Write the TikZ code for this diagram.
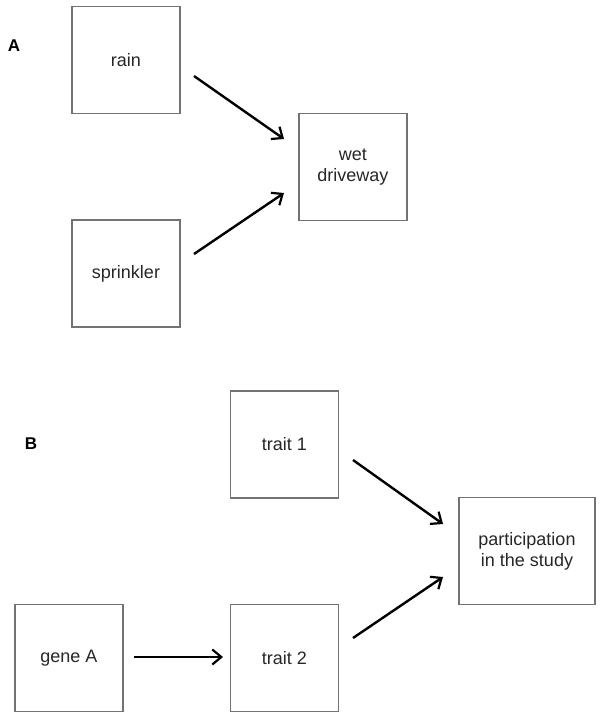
\documentclass[tikz,border=0pt]{standalone}
\usepackage{fontspec}
\setmainfont{Liberation Sans}
\usetikzlibrary{arrows.meta}

\tikzset{
  factor/.style={draw=black!55, line width=0.8pt, minimum width=54pt, minimum height=53.5pt,
    inner sep=0pt, align=center, font=\fontsize{9}{10.5}\selectfont, text=black!85},
  panel/.style={font=\fontsize{8.5}{10}\selectfont\bfseries},
  cause/.style={-{Straight Barb[length=4.5pt,width=7.5pt,line width=1.1pt]}, line width=1.2pt}
}

\begin{document}
\begin{tikzpicture}[x=0.5pt,y=-0.5pt]

        \useasboundingbox (0,0) rectangle (602,719);

        % panel A
        \node [panel] (labA) at (14,46) {A};
        \node [factor] (rain) at (126,60) {rain};
        \node [factor] (sprinkler) at (126,273.5) {sprinkler};
        \node [factor] (wet) at (353,167) {wet\\driveway};

        \coordinate (rainout) at (194,76);
        \coordinate (wetin1) at (284,139);
        \coordinate (sprout) at (194,254);
        \coordinate (wetin2) at (284,193);

        \draw [cause] (rainout) -- (wetin1);
        \draw [cause] (sprout) -- (wetin2);

        % panel B
        \node [panel] (labB) at (31,444) {B};
        \node [factor] (trait1) at (284.5,444.5) {trait 1};
        \node [factor, minimum width=68pt] (study) at (527,551) {participation\\in the study};
        \node [factor] (geneA) at (69,658) {gene A};
        \node [factor] (trait2) at (284.5,658) {trait 2};

        \coordinate (t1out) at (353,460);
        \coordinate (studyin1) at (443,524);
        \coordinate (t2out) at (353,638);
        \coordinate (studyin2) at (443,577);
        \coordinate (geneout) at (134,657);
        \coordinate (t2in) at (223,657);

        \draw [cause] (t1out) -- (studyin1);
        \draw [cause] (t2out) -- (studyin2);
        \draw [cause] (geneout) -- (t2in);
\end{tikzpicture}
\end{document}
